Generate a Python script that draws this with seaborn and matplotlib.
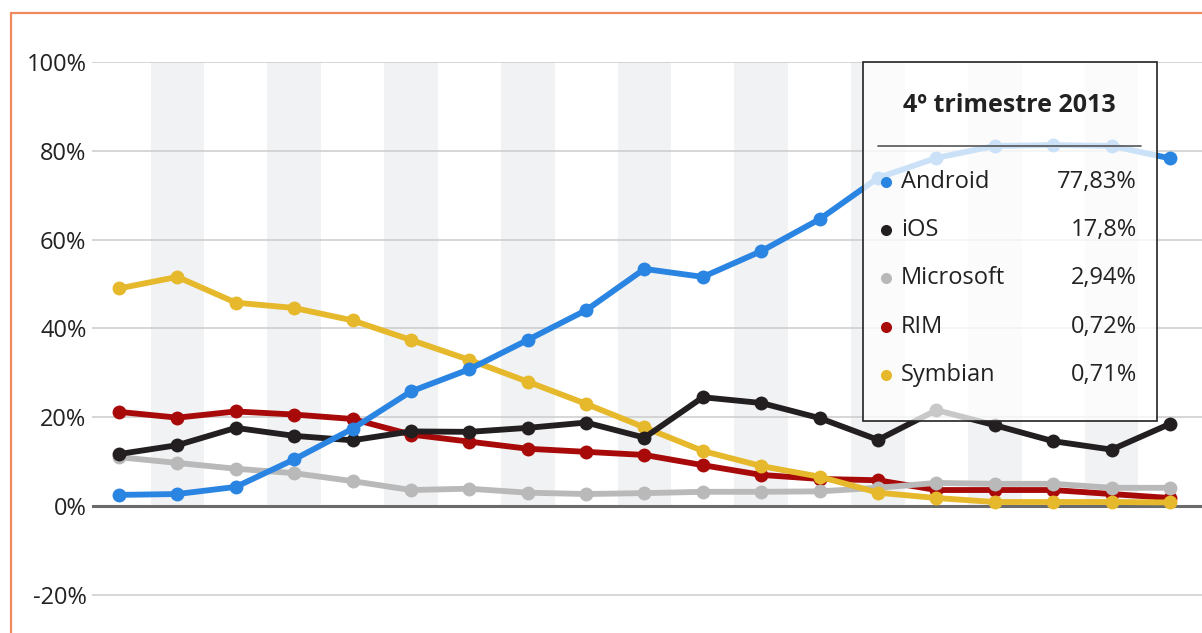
import matplotlib
matplotlib.use("Agg")
import matplotlib.pyplot as plt
from matplotlib.patches import Rectangle
from matplotlib.lines import Line2D
import seaborn as sns
import pandas as pd

quarters = ["T2 2009", "T3 2009", "T4 2009", "T1 2010", "T2 2010", "T3 2010", "T4 2010",
            "T1 2011", "T2 2011", "T3 2011", "T4 2011", "T1 2012", "T2 2012", "T3 2012",
            "T4 2012", "T1 2013", "T2 2013", "T3 2013", "T4 2013"]
android = [2.5, 2.7, 4.3, 10.5, 17.4, 25.8, 30.8, 37.4, 44.1, 53.4, 51.6, 57.4, 64.6, 73.9, 78.4, 81.1, 81.3, 81.1, 78.3]
ios = [11.7, 13.7, 17.6, 15.8, 14.8, 16.8, 16.7, 17.6, 18.8, 15.4, 24.5, 23.2, 19.8, 14.9, 21.6, 18.2, 14.6, 12.7, 18.5]
microsoft = [11.0, 9.7, 8.4, 7.4, 5.6, 3.6, 3.9, 3.0, 2.7, 2.9, 3.2, 3.2, 3.3, 4.1, 5.2, 5.0, 5.0, 4.1, 4.1]
rim = [21.2, 19.9, 21.3, 20.6, 19.6, 16.1, 14.5, 12.9, 12.2, 11.5, 9.2, 7.0, 6.1, 5.8, 3.6, 3.6, 3.6, 2.7, 1.8]
symbian = [49.0, 51.6, 45.8, 44.6, 41.8, 37.4, 32.9, 28.0, 23.0, 17.7, 12.4, 9.0, 6.6, 3.0, 1.8, 0.9, 0.9, 0.9, 0.8]

series_names = ["Android", "iOS", "Microsoft", "RIM", "Symbian"]
series_colors = ["#2a84e2", "#231f20", "#b9b9b9", "#a80a0a", "#e6b82c"]
tooltip_title = "4º trimestre 2013"
tooltip_values = ["77,83%", "17,8%", "2,94%", "0,72%", "0,71%"]
y_ticks = [-20, 0, 20, 40, 60, 80, 100]
y_labels = ["-20%", "0%", "20%", "40%", "60%", "80%", "100%"]

data = {"Android": android, "iOS": ios, "Microsoft": microsoft, "RIM": rim, "Symbian": symbian}
rows = []
for name, vals in data.items():
    for i, v in enumerate(vals):
        rows.append({"x": i, "trimestre": quarters[i], "serie": name, "valor": v})
df = pd.DataFrame(rows)

sns.set_theme(style="white")
plt.rcParams["font.family"] = ["Open Sans", "DejaVu Sans"]

W, H = 1202, 633
fig = plt.figure(figsize=(W / 100, H / 100), dpi=100)
ax = fig.add_axes([92 / W, 0, 1 - 92 / W, 1 - 62 / H])

# alternating shaded bands
for i in range(1, len(quarters), 2):
    ax.add_patch(Rectangle((i - 0.46, 0), 0.92, 100, facecolor="#f1f2f4",
                           edgecolor="none", zorder=0))

# gridlines
for t in y_ticks:
    if t == 0:
        ax.axhline(0, color="#6a6a6a", lw=2.2, zorder=1)
    else:
        ax.axhline(t, color="#cfcfcf", lw=1.2, zorder=1)

draw_order = ["RIM", "Microsoft", "Symbian", "iOS", "Android"]
pal = dict(zip(series_names, series_colors))
for k, name in enumerate(draw_order):
    sub = df[df["serie"] == name]
    sns.lineplot(data=sub, x="x", y="valor", color=pal[name], lw=4.2, marker="o",
                 markersize=10, markeredgewidth=0, ax=ax, zorder=3 + k, legend=False)

ax.set_xlim(-0.462, 18.548)
ax.set_ylim(-28.6, 100)
ax.set_yticks(y_ticks)
ax.set_yticklabels(y_labels)
ax.set_xticks([])
ax.set_xlabel("")
ax.set_ylabel("")
ax.tick_params(axis="y", length=0, pad=4, labelsize=17, labelcolor="#222222")
for s in ax.spines.values():
    s.set_visible(False)
ax.patch.set_alpha(0)

# tooltip box (figure pixel coordinates)
def fx(px):
    return px / W
def fy(py):
    return 1 - py / H

box = Rectangle((fx(863), fy(421)), fx(1157) - fx(863), fy(62) - fy(421),
                transform=fig.transFigure, facecolor="white", alpha=0.76,
                edgecolor="none", zorder=20)
fig.add_artist(box)
border = Rectangle((fx(863), fy(421)), fx(1157) - fx(863), fy(62) - fy(421),
                   transform=fig.transFigure, facecolor="none",
                   edgecolor="#222222", lw=1.2, zorder=21)
fig.add_artist(border)
fig.text(fx(1009), fy(105), tooltip_title, ha="center", va="center",
         fontsize=18, fontweight="bold", color="#222222", zorder=22)
fig.add_artist(Line2D([fx(878), fx(1141)], [fy(146), fy(146)], transform=fig.transFigure,
                      color="#555555", lw=1.2, zorder=22))
row_y = [182, 230, 278, 327, 375]
for name, col, val, yy in zip(series_names, series_colors, tooltip_values, row_y):
    fig.add_artist(Line2D([fx(886)], [fy(yy)], transform=fig.transFigure, marker="o",
                          markersize=8, color=col, markeredgewidth=0, zorder=22))
    fig.text(fx(901), fy(yy), name, ha="left", va="center", fontsize=17,
             color="#222222", zorder=22)
    fig.text(fx(1137), fy(yy), val, ha="right", va="center", fontsize=17,
             color="#222222", zorder=22)

# orange frame
fig.add_artist(Line2D([fx(11), fx(11)], [fy(13), 0], transform=fig.transFigure,
                      color="#f0895c", lw=1.6, zorder=30))
fig.add_artist(Line2D([fx(11), 1], [fy(13), fy(13)], transform=fig.transFigure,
                      color="#f0895c", lw=1.6, zorder=30))

fig.savefig("out.png", dpi=100)
